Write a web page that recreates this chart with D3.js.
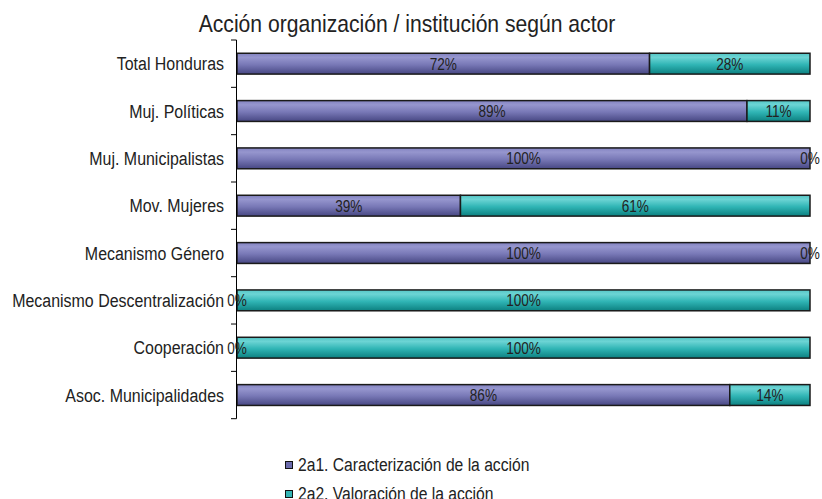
<!DOCTYPE html>
<html>
<head>
<meta charset="utf-8">
<script src="https://cdn.jsdelivr.net/npm/d3@7"></script>
<style>
  html, body { margin: 0; padding: 0; background: #fff; }
  svg { display: block; }
  text { font-family: "Liberation Sans", Arial, sans-serif; fill: #222; }
</style>
</head>
<body>
<svg id="chart" width="822" height="499"></svg>
<script>
// Categories (top to bottom) and the two stacked series, in percent
const categories = [
  "Total Honduras",
  "Muj. Políticas",
  "Muj. Municipalistas",
  "Mov. Mujeres",
  "Mecanismo Género",
  "Mecanismo Descentralización",
  "Cooperación",
  "Asoc. Municipalidades"
];
const caracterizacion = [72, 89, 100, 39, 100, 0, 0, 86];
const valoracion      = [28, 11, 0, 61, 0, 100, 100, 14];
const seriesNames = ["2a1. Caracterización de la acción", "2a2. Valoración de la acción"];
const titleText = "Acción organización / institución según actor";

const svg = d3.select("#chart");
const defs = svg.append("defs");

// Vertical shading for each series
function gradient(id, stops) {
  const g = defs.append("linearGradient").attr("id", id)
    .attr("x1", 0).attr("y1", 0).attr("x2", 0).attr("y2", 1);
  stops.forEach(([o, c]) => g.append("stop").attr("offset", o).attr("stop-color", c));
}
gradient("gPurple", [[0, "#8383c1"], [0.2, "#9696ce"], [0.55, "#7878b6"], [1, "#474783"]]);
gradient("gTeal",   [[0, "#55c6c6"], [0.2, "#6cd4d4"], [0.55, "#30b5b5"], [1, "#0c8080"]]);
const fills = ["url(#gPurple)", "url(#gTeal)"];
const swatch = ["#6b6bac", "#34b4b4"];

const plotLeft = 237, plotRight = 810, plotTop = 40, plotBottom = 418.7;

const x = d3.scaleLinear().domain([0, 100]).range([plotLeft, plotRight]);
const y = d3.scaleBand().domain(categories).range([plotTop, plotBottom])
  .paddingInner(0.56).paddingOuter(0.28);

const rows = categories.map((c, i) => ({ cat: c, vals: [caracterizacion[i], valoracion[i]] }));
const stack = d3.stack().keys([0, 1]).value((d, k) => d.vals[k]);
const layers = stack(rows);

// Title
svg.append("text")
  .attr("transform", "translate(407,32) scale(0.88,1)")
  .attr("text-anchor", "middle")
  .style("font-size", "24px")
  .text(titleText);

// Bars
layers.forEach((layer, k) => {
  svg.append("g").selectAll("rect").data(layer.filter(d => d[1] - d[0] > 0)).join("rect")
    .attr("x", d => x(d[0]))
    .attr("y", d => y(d.data.cat))
    .attr("width", d => x(d[1]) - x(d[0]))
    .attr("height", y.bandwidth())
    .attr("fill", fills[k])
    .attr("stroke", "#1a1a1a")
    .attr("stroke-width", 1.5);
});

// Category axis: vertical line with ticks at band boundaries
const axis = svg.append("g").attr("stroke", "#000").attr("stroke-width", 1);
axis.append("line").attr("x1", plotLeft - 0.5).attr("x2", plotLeft - 0.5).attr("y1", plotTop).attr("y2", plotBottom);
d3.range(categories.length + 1).forEach(i => {
  const ty = plotTop + y.step() * i;
  axis.append("line").attr("x1", plotLeft - 6).attr("x2", plotLeft - 0.5).attr("y1", ty).attr("y2", ty);
});

svg.append("g").selectAll("text").data(categories).join("text")
  .attr("transform", d => `translate(224,${y(d) + y.bandwidth() / 2 + 6.5}) scale(0.84,1)`)
  .attr("text-anchor", "end")
  .style("font-size", "19px")
  .text(d => d);

// Value labels centred in each segment
layers.forEach((layer, k) => {
  svg.append("g").selectAll("text").data(layer).join("text")
    .attr("transform", d => `translate(${x((d[0] + d[1]) / 2)},${y(d.data.cat) + y.bandwidth() / 2 + 6}) scale(0.8,1)`)
    .attr("text-anchor", "middle")
    .style("font-size", "17px")
    .text(d => `${d.data.vals[k]}%`);
});

// Legend (the second row runs to the bottom edge of the frame)
const legend = svg.append("g");
seriesNames.forEach((name, k) => {
  const ly = 465 + k * 29;
  legend.append("rect")
    .attr("x", 285.5).attr("y", ly - 3.5).attr("width", 7).attr("height", 7)
    .attr("fill", swatch[k]).attr("stroke", "#111").attr("stroke-width", 1);
  legend.append("text")
    .attr("transform", `translate(298,${ly + 6}) scale(0.87,1)`)
    .style("font-size", "18px")
    .text(name);
});
</script>
</body>
</html>
